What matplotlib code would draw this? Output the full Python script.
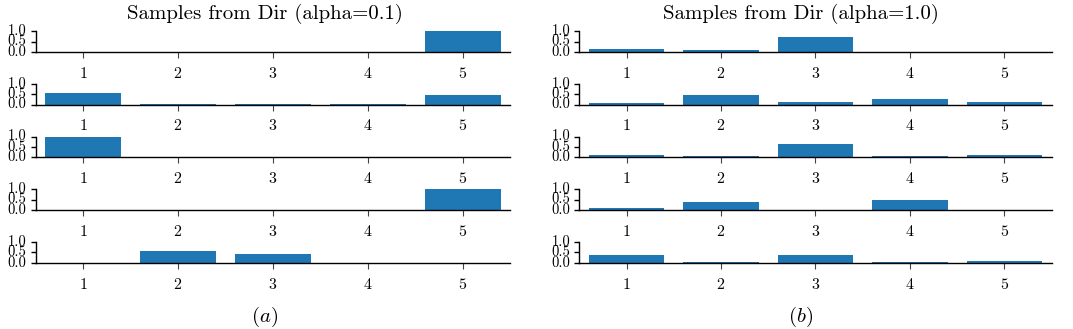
import numpy as np
import matplotlib
matplotlib.use("Agg")
import matplotlib.pyplot as plt

plt.rcParams['font.family'] = 'serif'
plt.rcParams['font.serif'] = ['cmr10']
plt.rcParams['mathtext.fontset'] = 'cm'
plt.rcParams['axes.formatter.use_mathtext'] = True

categories = [1, 2, 3, 4, 5]

# five draws per concentration, one row per draw
samples_alpha_01 = [
    [0.0, 0.0, 0.0, 0.0, 1.0],
    [0.55, 0.004, 0.003, 0.003, 0.44],
    [1.0, 0.0, 0.0, 0.0, 0.0],
    [0.0, 0.0, 0.0, 0.0, 1.0],
    [0.0, 0.58, 0.40, 0.003, 0.002],
]

samples_alpha_10 = [
    [0.14, 0.09, 0.73, 0.005, 0.02],
    [0.07, 0.45, 0.11, 0.26, 0.11],
    [0.11, 0.06, 0.66, 0.06, 0.11],
    [0.10, 0.40, 0.005, 0.47, 0.01],
    [0.36, 0.05, 0.36, 0.05, 0.10],
]

titles = ["Samples from Dir (alpha=0.1)", "Samples from Dir (alpha=1.0)"]
captions = [r"$\mathit{(a)}$", r"$\mathit{(b)}$"]

W, H = 1073, 329
fig = plt.figure(figsize=(W / 100, H / 100), dpi=100)

col_left = [35.7, 579.3]
col_width = [474.3, 472.4]
row_base = [52.0, 104.5, 157.3, 210.0, 262.7]
row_height = 20.8
title_x = [265, 801]


def draw_column(samples, c):
    for r, values in enumerate(samples):
        ax = fig.add_axes([col_left[c] / W, 1 - row_base[r] / H,
                           col_width[c] / W, row_height / H])
        ax.bar(categories, values, width=0.8, color='#1f77b4')
        ax.set_xlim(0.5, 5.5)
        ax.set_ylim(0, 1)
        ax.set_xticks(categories)
        ax.set_yticks([0.0, 0.5, 1.0])
        ax.set_yticklabels(["0.0", "0.5", "1.0"])
        ax.spines['top'].set_visible(False)
        ax.spines['right'].set_visible(False)
        ax.spines['left'].set_linewidth(1.0)
        ax.spines['bottom'].set_linewidth(1.0)
        ax.tick_params(axis='x', length=4, width=0.8, color='#444444',
                       pad=6, labelsize=11.5)
        ax.tick_params(axis='y', length=3.5, width=1.0, pad=3,
                       labelsize=10.5)
        for lab in ax.get_yticklabels():
            lab.set_verticalalignment('center')
        ax.patch.set_alpha(0)


draw_column(samples_alpha_01, 0)
draw_column(samples_alpha_10, 1)

for c in range(2):
    fig.text(title_x[c] / W, 1 - 14 / H, titles[c], ha='center', va='center',
             fontsize=15)
    fig.text(title_x[c] / W, 1 - 317 / H, captions[c], ha='center',
             va='center', fontsize=15)

fig.savefig("out.png", dpi=100)
